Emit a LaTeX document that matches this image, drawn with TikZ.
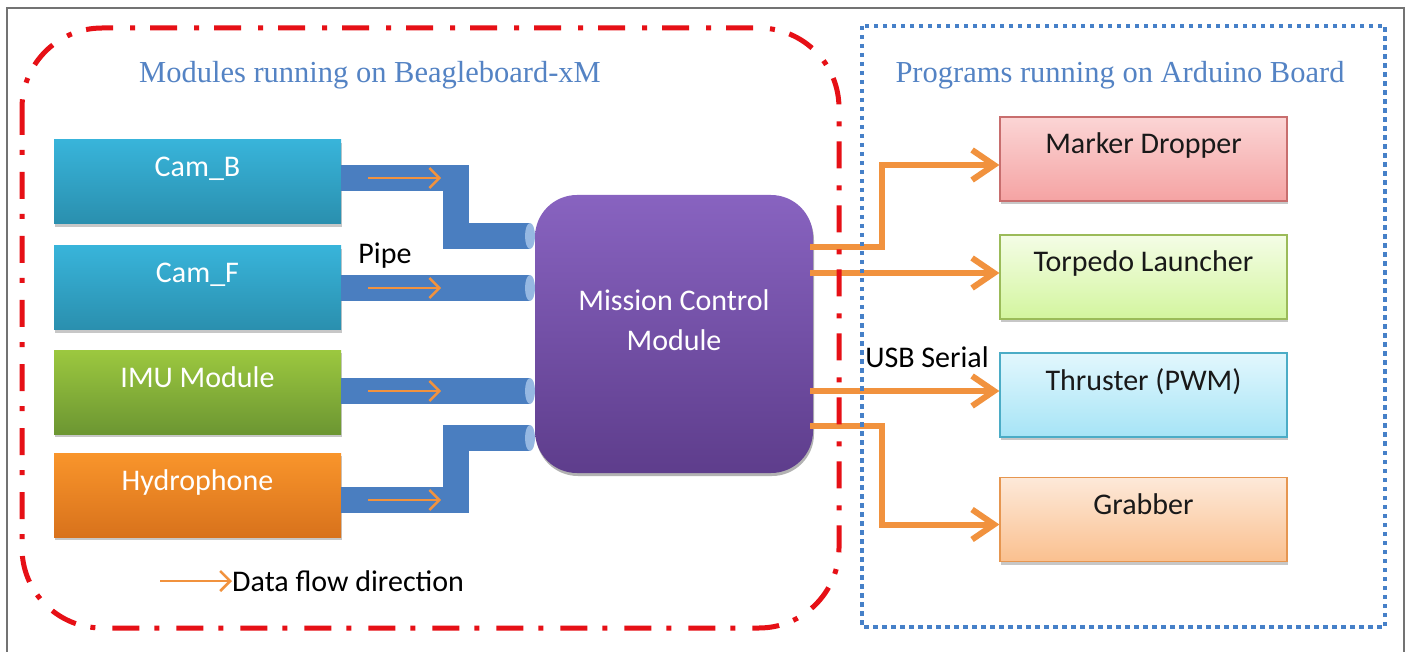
\documentclass[tikz,border=0pt]{standalone}
\usepackage{fontspec}
\setmainfont{Carlito}
\newfontfamily\titlefont{Liberation Serif}
\usetikzlibrary{arrows.meta,shadows,calc}
\definecolor{titleblue}{RGB}{84,131,196}
\definecolor{pipeblue}{RGB}{74,126,192}
\definecolor{pipecap}{RGB}{150,184,226}
\definecolor{flow}{RGB}{241,146,62}
\definecolor{redline}{RGB}{230,16,22}
\definecolor{dotblue}{RGB}{70,128,200}
\definecolor{camtop}{RGB}{56,180,218}
\definecolor{cambot}{RGB}{42,143,174}
\definecolor{imutop}{RGB}{156,200,63}
\definecolor{imubot}{RGB}{108,150,50}
\definecolor{hydtop}{RGB}{249,149,43}
\definecolor{hydbot}{RGB}{216,114,28}
\definecolor{mcmtop}{RGB}{136,99,192}
\definecolor{mcmbot}{RGB}{94,61,140}
\definecolor{mktop}{RGB}{251,213,213}
\definecolor{mkbot}{RGB}{245,163,163}
\definecolor{mkdraw}{RGB}{200,110,110}
\definecolor{tptop}{RGB}{244,253,230}
\definecolor{tpbot}{RGB}{211,245,158}
\definecolor{tpdraw}{RGB}{155,187,89}
\definecolor{thtop}{RGB}{226,247,253}
\definecolor{thbot}{RGB}{166,228,246}
\definecolor{thdraw}{RGB}{75,172,198}
\definecolor{grtop}{RGB}{253,233,217}
\definecolor{grbot}{RGB}{250,192,143}
\definecolor{grdraw}{RGB}{230,150,80}
\tikzset{
  boxbase/.style={rectangle, minimum width=287pt, minimum height=84pt,
    inner ysep=0pt, text height=37pt, text depth=47pt,
    font=\fontsize{30}{32}\selectfont,
    drop shadow={shadow xshift=1pt, shadow yshift=-3pt, opacity=0.22, fill=black}},
  lbox/.style={boxbase, text=white},
  rbox/.style={boxbase, text=black!90, draw, line width=1.2pt},
  pipe/.style={draw=pipeblue, line width=26pt, line join=miter, line cap=butt},
  pipeend/.style={fill=pipecap, draw=none},
  smallflow/.style={draw=flow, line width=2.5pt, -{Straight Barb[length=10pt,width=20pt]}},
  bigflow/.style={draw=flow, line width=6pt, line join=miter, -{Straight Barb[length=22pt,width=30pt]}},
  lbl/.style={inner sep=0pt, text=black, font=\fontsize{30}{32}\selectfont},
  titletext/.style={inner sep=0pt, text=titleblue, font=\titlefont\fontsize{30.5}{32}\selectfont},
  redframe/.style={draw=redline, line width=5pt, rounded corners=80pt,
    dash pattern=on 27pt off 15pt on 5pt off 17pt},
  blueframe/.style={draw=dotblue, line width=4.5pt, dash pattern=on 4.5pt off 4.5pt},
}
\begin{document}
\begin{tikzpicture}[x=1pt,y=-1pt]
\useasboundingbox (0,0) rectangle (1411,652);
\fill[white] (0,0) rectangle (1411,652);
\draw[black!55, line width=1.3pt] (7,656) -- (7,8) -- (1404,8) -- (1404,656);

% titles
\node[titletext] (t1) at (370,75) {Modules running on Beagleboard-xM};
\node[titletext] (t2) at (1120,75) {Programs running on Arduino Board};

% left modules
\node[lbox, top color=camtop, bottom color=cambot] (camb) at (197.5,182) {Cam\_B};
\node[lbox, top color=camtop, bottom color=cambot] (camf) at (197.5,288) {Cam\_F};
\node[lbox, top color=imutop, bottom color=imubot] (imu) at (197.5,392) {IMU Module};
\node[lbox, top color=hydtop, bottom color=hydbot] (hyd) at (197.5,495) {Hydrophone};

% right programs
\node[rbox, top color=mktop, bottom color=mkbot, draw=mkdraw] (mark) at (1143.5,159) {Marker Dropper};
\node[rbox, top color=tptop, bottom color=tpbot, draw=tpdraw] (torp) at (1143.5,277) {Torpedo Launcher};
\node[rbox, top color=thtop, bottom color=thbot, draw=thdraw] (thr) at (1143.5,395) {Thruster (PWM)};
\node[rbox, top color=grtop, bottom color=grbot, draw=grdraw] (grab) at (1143.5,519.5) {Grabber};

% helper coordinates
\coordinate (mcmc) at (674,334);
\coordinate (p1a) at (456,178);
\coordinate (p1b) at (456,236);
\coordinate (p4a) at (456,500);
\coordinate (p4b) at (456,438);
\coordinate (mw) at (535,334);

% pipes
\draw[pipe] (camb.east |- p1a) -- (p1a) -- (p1b) -- ($(mw |- p1b)+(-5,0)$) coordinate (e1);
\draw[pipe] (camf.east) -- ($(mw |- camf.east)+(-5,0)$) coordinate (e2);
\draw[pipe] (imu.east |- 0,391) -- ($(mw |- 0,391)+(-5,0)$) coordinate (e3);
\draw[pipe] (hyd.east |- p4a) -- (p4a) -- (p4b) -- ($(mw |- p4b)+(-5,0)$) coordinate (e4);
\foreach \e in {e1,e2,e3,e4} \fill[pipeend] (\e) ellipse [x radius=5pt, y radius=13pt];

% small flow arrows inside pipes
\draw[smallflow] ($(camb.east |- p1a)+(27,0)$) -- ++(73,0);
\draw[smallflow] ($(camf.east)+(27,0)$) -- ++(73,0);
\draw[smallflow] ($(imu.east |- 0,391)+(27,0)$) -- ++(73,0);
\draw[smallflow] ($(hyd.east |- p4a)+(27,0)$) -- ++(73,0);

% mission control module
\node[rectangle, rounded corners=42pt, minimum width=278pt, minimum height=278pt,
  top color=mcmtop, bottom color=mcmbot,
  drop shadow={shadow xshift=1pt, shadow yshift=-3pt, opacity=0.3, fill=black}] (mcm) at (mcmc) {};
\node[inner sep=0pt, text=white, align=center, font=\fontsize{30}{40}\selectfont]
  (mcmt) at ([yshift=14pt]mcm.center) {Mission Control\\Module};

% output arrows
\coordinate (a1) at (882,247);
\coordinate (a4) at (882,426);
\draw[bigflow] ($(mcm.east |- a1)+(-3,0)$) -- (a1) |- ([yshift=-6pt]mark.west);
\draw[bigflow] ($(mcm.east |- 0,273)+(-3,0)$) -- (torp.west |- 0,273);
\draw[bigflow] ($(mcm.east |- 0,391)+(-3,0)$) -- (thr.west |- 0,391);
\draw[bigflow] ($(mcm.east |- a4)+(-3,0)$) -- (a4) |- ([yshift=-5pt]grab.west);

% labels
\node[lbl] (pipelbl) at (385,256) {Pipe};
\node[lbl] (usb) at (927,357) {USB Serial};

% legend
\node[lbl, anchor=west] (leg) at (232,581) {Data flow direction};
\coordinate (legs) at (160,581);
\draw[smallflow] (legs) -- (leg.west);

% frames
\draw[redframe] (22,28) rectangle (839,628);
\draw[blueframe] (862,26) rectangle (1385,627);
\end{tikzpicture}
\end{document}
